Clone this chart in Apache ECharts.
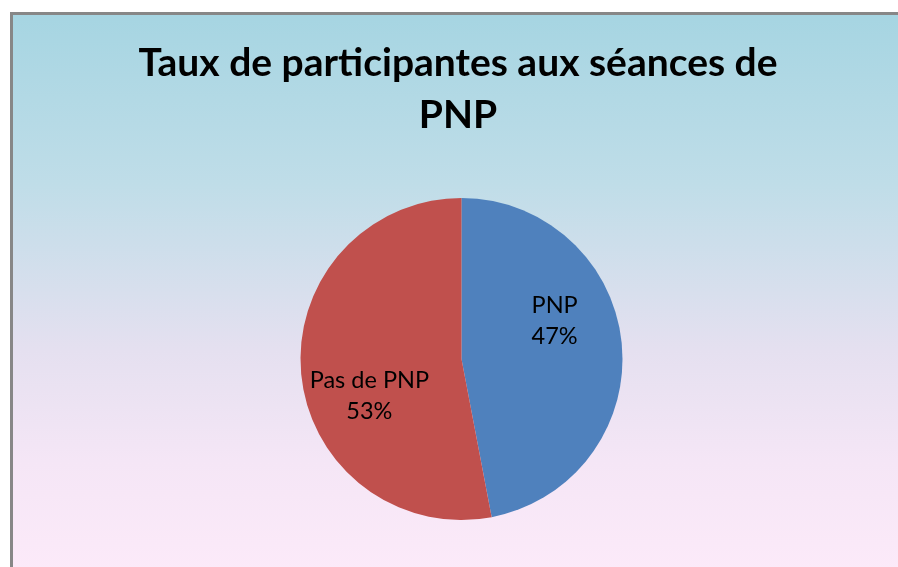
<!DOCTYPE html>
<html>
<head>
<meta charset="utf-8">
<script src="https://cdn.jsdelivr.net/npm/echarts@6/dist/echarts.min.js"></script>
<style>
  html, body { margin: 0; padding: 0; background: #fff; overflow: hidden; width: 898px; height: 567px; }
  #frame {
    position: absolute; left: 10px; top: 12px;
    border-left: 3px solid #878787; border-top: 3px solid #878787;
    width: 890px; height: 560px;
  }
</style>
</head>
<body>
<div id="frame"></div>
<script>
// données du graphique
const categories = ['PNP', 'Pas de PNP']
const values = [47, 53]
const colors = ['#4F81BD', '#C0504D']

// décalage des étiquettes (placement type Excel)
const labelShift = [[10, -30], [-9, 29]]

const chart = echarts.init(document.getElementById('frame'))
chart.setOption({
    backgroundColor: new echarts.graphic.LinearGradient(0, 0, 0, 1, [
        { offset: 0, color: '#A6D5E2' },
        { offset: 0.3, color: '#BFDDE8' },
        { offset: 0.6, color: '#E5E0F0' },
        { offset: 0.8, color: '#F5E6F6' },
        { offset: 1, color: '#FCEAF9' }
    ]),
    title: {
        text: 'Taux de participantes aux séances de\nPNP',
        left: 'center',
        top: 17,
        textStyle: {
            fontFamily: 'Lato',
            fontSize: 39,
            fontWeight: 'bold',
            color: '#000',
            lineHeight: 52
        }
    },
    series: [{
        type: 'pie',
        center: [448.5, 344],
        radius: 161,
        startAngle: 90,
        clockwise: true,
        animation: false,
        silent: true,
        color: colors,
        data: categories.map((name, i) => ({ name, value: values[i] })),
        label: {
            position: 'inside',
            formatter: '{b}\n{d}%',
            fontFamily: 'Lato',
            fontSize: 23.5,
            lineHeight: 31,
            color: '#000'
        },
        labelLine: { show: false },
        labelLayout: p => ({ dx: labelShift[p.dataIndex][0], dy: labelShift[p.dataIndex][1] })
    }]
})
</script>
</body>
</html>
